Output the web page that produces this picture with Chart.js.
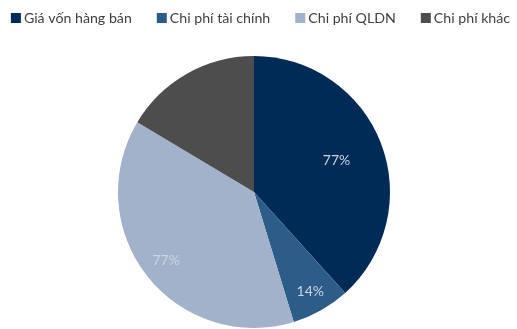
<!DOCTYPE html>
<html>
<head>
<meta charset="utf-8">
<script src="https://cdn.jsdelivr.net/npm/chart.js@4.4.1/dist/chart.umd.min.js"></script>
<style>
    html, body { margin: 0; padding: 0; background: #fff; }
    #wrap { width: 517px; height: 329px; }
</style>
</head>
<body>
<div id="wrap"><canvas id="costChart"></canvas></div>
<script>
// Cost structure
const categories = ['Giá vốn hàng bán', 'Chi phí tài chính', 'Chi phí QLDN', 'Chi phí khác'];
const values = [77, 14, 77, 33];
const labelled = [true, true, true, false];
const colors = ['#012b57', '#2c5d89', '#a2b2ca', '#4d4d4d'];

const FONT = 'Lato, "Noto Sans", sans-serif';

// One-row legend across the top, drawn on the canvas
const topLegend = {
    id: 'topLegend',
    afterDraw(chart, args, opts) {
        const ctx = chart.ctx;
        ctx.save();
        ctx.font = opts.size + 'px ' + FONT;
        ctx.textBaseline = 'middle';
        const widths = categories.map(c => ctx.measureText(c).width);
        const total = widths.reduce((s, w) => s + opts.box + opts.textGap + w, 0) + opts.gap * (categories.length - 1);
        let x = opts.centerX - total / 2;
        categories.forEach((c, i) => {
            ctx.fillStyle = colors[i];
            ctx.fillRect(x, opts.y - opts.box / 2, opts.box, opts.box);
            x += opts.box + opts.textGap;
            ctx.fillStyle = opts.color;
            ctx.fillText(c, x, opts.y);
            x += widths[i] + opts.gap;
        });
        ctx.restore();
    }
};

// Percent labels inside the slices
const sliceLabels = {
    id: 'sliceLabels',
    afterDatasetsDraw(chart, args, opts) {
        const ctx = chart.ctx;
        const meta = chart.getDatasetMeta(0);
        ctx.save();
        ctx.font = '14px ' + FONT;
        ctx.fillStyle = '#ccd3de';
        ctx.textAlign = 'center';
        ctx.textBaseline = 'middle';
        meta.data.forEach((arc, i) => {
            if (!labelled[i]) return;
            const p = arc.getProps(['x', 'y', 'startAngle', 'endAngle', 'outerRadius']);
            const mid = (p.startAngle + p.endAngle) / 2;
            const r = p.outerRadius * opts.fractions[i];
            ctx.fillText(values[i] + '%', p.x + Math.cos(mid) * r, p.y + Math.sin(mid) * r);
        });
        ctx.restore();
    }
};

new Chart(document.getElementById('costChart'), {
    type: 'pie',
    data: {
        labels: categories,
        datasets: [{
            data: values,
            backgroundColor: colors,
            borderWidth: 0
        }]
    },
    options: {
        responsive: true,
        maintainAspectRatio: false,
        animation: false,
        events: [],
        layout: { padding: { left: 0, right: 9, top: 56, bottom: 1 } },
        plugins: {
            legend: { display: false },
            tooltip: { enabled: false },
            topLegend: { size: 14.2, box: 10, textGap: 3, gap: 25, centerX: 260.5, y: 18, color: '#404040' },
            sliceLabels: { fractions: [0.65, 0.84, 0.82, 0.7] }
        }
    },
    plugins: [topLegend, sliceLabels]
});
</script>
</body>
</html>
